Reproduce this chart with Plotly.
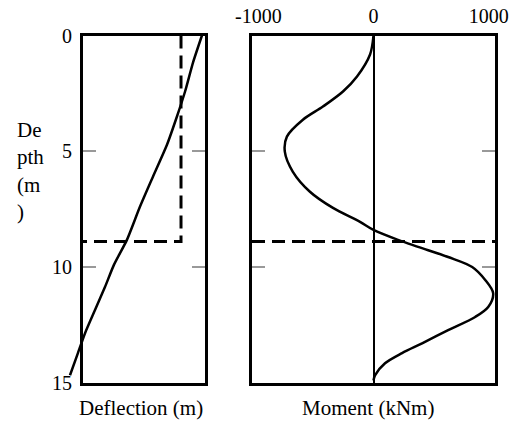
import plotly.graph_objects as go

# ---- data ----
depth_defl = [0, 1.17, 2.42, 3.5, 4.72, 6.1, 7.4, 8.83, 9.91, 10.87, 11.86, 12.86, 13.72, 14.68]
deflection = [0.0585, 0.0541, 0.0502, 0.0462, 0.0413, 0.0344, 0.0280, 0.0216, 0.0152,
              0.0108, 0.0059, 0.0010, -0.0025, -0.0064]

depth_mom = [0, 0.82, 1.77, 2.42, 3.07, 3.64, 4.37, 5.02, 5.89, 6.75, 7.45, 8.05, 8.4,
             8.83, 9.13, 9.57, 10.0, 10.56, 11.13, 11.73, 12.16, 12.73, 13.3, 13.72,
             14.16, 14.68, 14.9]
moment = [0, -30, -143, -265, -439, -613, -752, -770, -700, -552, -352, -117, 0,
          213, 387, 648, 857, 970, 1039, 996, 883, 648, 422, 248, 100, 13, 0]

excavation_depth = 8.9
wall_deflection = 0.0482

depth_ticks = [0, 5, 10, 15]
moment_ticks = [-1000, 0, 1000]
moment_tick_labels = ["-1000", "0", "1000"]

defl_range = [0, 0.06]
mom_range = [-1055, 1055]

# ---- layout geometry ----
W, H = 513, 421
FONT = dict(family="Liberation Serif", size=21, color="black")
TICKFONT = dict(family="Liberation Serif", size=20, color="black")

def px_x(p):
    return p / W

def px_y(p):
    return 1 - p / H

ydom = [px_y(382.7), px_y(35.5)]
x1dom = [px_x(83), px_x(205)]
x2dom = [px_x(252), px_x(495)]
x3dom = [px_x(60), px_x(205)]
# extended axis (same scale as x) so the deflection line can run past the frame
x3min = defl_range[1] - (defl_range[1] - defl_range[0]) * (x3dom[1] - x3dom[0]) / (x1dom[1] - x1dom[0])

fig = go.Figure()

fig.add_trace(go.Scatter(x=[wall_deflection, wall_deflection, defl_range[0]],
                         y=[0, excavation_depth, excavation_depth],
                         mode="lines", line=dict(color="black", width=3, dash="13px,7px"),
                         xaxis="x", yaxis="y", showlegend=False))
fig.add_trace(go.Scatter(x=deflection, y=depth_defl, mode="lines",
                         line=dict(color="black", width=2.5, shape="spline", smoothing=0.6),
                         xaxis="x3", yaxis="y", showlegend=False))

fig.add_trace(go.Scatter(x=mom_range, y=[excavation_depth, excavation_depth],
                         mode="lines", line=dict(color="black", width=3, dash="13px,7px"),
                         xaxis="x2", yaxis="y2", showlegend=False))
fig.add_trace(go.Scatter(x=moment, y=depth_mom, mode="lines",
                         line=dict(color="black", width=2.5, shape="spline", smoothing=0.9),
                         xaxis="x2", yaxis="y2", showlegend=False))

minor_ticks = dict(tickmode="array", tickvals=[5, 10], ticks="inside", ticklen=13,
                   tickwidth=2, tickcolor="#999999")

fig.update_layout(
    width=W, height=H, autosize=False,
    margin=dict(l=0, r=0, t=0, b=0, pad=0, autoexpand=False),
    paper_bgcolor="white", plot_bgcolor="rgba(0,0,0,0)",
    font=FONT,
    xaxis=dict(domain=x1dom, range=defl_range, anchor="y", showticklabels=False, ticks="",
               showline=True, mirror=True, linecolor="black", linewidth=3,
               showgrid=False, zeroline=False, automargin=False),
    yaxis=dict(domain=ydom, range=[15, 0], anchor="x", tickmode="array", tickvals=depth_ticks,
               ticks="", showline=True, mirror="ticks", linecolor="black", linewidth=3,
               showgrid=False, zeroline=False, tickfont=TICKFONT, ticklabelstandoff=4,
               minor=minor_ticks, automargin=False),
    xaxis2=dict(domain=x2dom, range=mom_range, anchor="y2", side="top", tickmode="array",
                tickvals=moment_ticks, ticktext=moment_tick_labels, ticks="", showline=True,
                mirror=True, linecolor="black", linewidth=3, showgrid=False, zeroline=True,
                zerolinecolor="black", zerolinewidth=2, tickfont=TICKFONT, ticklabelstandoff=2,
                automargin=False),
    yaxis2=dict(domain=ydom, range=[15, 0], anchor="x2", tickmode="array", tickvals=depth_ticks,
                showticklabels=False, ticks="", showline=True, mirror="ticks",
                linecolor="black", linewidth=3, showgrid=False, zeroline=False,
                minor=minor_ticks, automargin=False),
    xaxis3=dict(domain=x3dom, range=[x3min, defl_range[1]], anchor="y", visible=False),
    annotations=[
        dict(text="Deflection (m)", x=px_x(140.5), y=px_y(408), xref="paper", yref="paper",
             showarrow=False, xanchor="center", yanchor="middle", font=FONT),
        dict(text="Moment (kNm)", x=px_x(368), y=px_y(408), xref="paper", yref="paper",
             showarrow=False, xanchor="center", yanchor="middle", font=FONT),
        dict(text="De<br>pth<br>(m<br>)", x=px_x(15), y=px_y(171), xref="paper", yref="paper",
             showarrow=False, xanchor="left", yanchor="middle", align="left", font=FONT),
    ],
)

fig.write_html("out.html")
